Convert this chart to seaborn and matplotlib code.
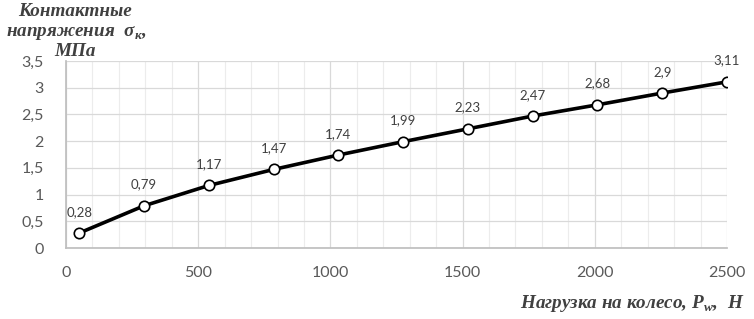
import matplotlib
matplotlib.use("Agg")
import matplotlib.pyplot as plt
import seaborn as sns
import pandas as pd
from matplotlib.ticker import MultipleLocator, FuncFormatter

load_n = [50, 295, 540, 785, 1030, 1275, 1520, 1765, 2010, 2255, 2500]
stress_mpa = [0.28, 0.79, 1.17, 1.47, 1.74, 1.99, 2.23, 2.47, 2.68, 2.9, 3.11]
point_labels = ["0,28", "0,79", "1,17", "1,47", "1,74", "1,99", "2,23", "2,47", "2,68", "2,9", "3,11"]

df = pd.DataFrame({"load": load_n, "stress": stress_mpa})

sns.set_theme(style="white")
plt.rcParams['font.family'] = ['Lato', 'DejaVu Sans']

fig = plt.figure(figsize=(7.54, 3.19), dpi=100)
ax = fig.add_axes([66/754, 1-248/319, (727-66)/754, (248-61)/319])

sns.lineplot(data=df, x="load", y="stress", ax=ax, color="black", linewidth=2.6,
             marker="o", markersize=7.5, markerfacecolor="white",
             markeredgecolor="black", markeredgewidth=1.2, zorder=3)

for x, y, t in zip(load_n, stress_mpa, point_labels):
    ax.annotate(t, (x, y), xytext=(0, 11), textcoords="offset points",
                ha="center", va="bottom", fontsize=9.5, color="#404040")

ax.set_xlim(0, 2500)
ax.set_ylim(0, 3.5)
ax.xaxis.set_major_locator(MultipleLocator(500))
ax.xaxis.set_minor_locator(MultipleLocator(100))
ax.yaxis.set_major_locator(MultipleLocator(0.5))
fmt = FuncFormatter(lambda v, p: ("%g" % v).replace(".", ","))
ax.yaxis.set_major_formatter(fmt)
ax.xaxis.set_major_formatter(FuncFormatter(lambda v, p: "%d" % v))
ax.grid(which="major", color="#d9d9d9", linewidth=0.9)
ax.grid(which="minor", axis="x", color="#ececec", linewidth=0.8)
for s in ["top", "right"]:
    ax.spines[s].set_visible(False)
ax.spines["left"].set_color("#bfbfbf")
ax.spines["bottom"].set_color("#bfbfbf")
ax.tick_params(axis="both", which="both", length=0, labelsize=11.5, colors="#595959")
ax.tick_params(axis="x", pad=13)
ax.tick_params(axis="y", pad=16)
ax.set_xlabel("")
ax.set_ylabel("")

serif = dict(family=["Liberation Serif", "DejaVu Serif"], weight="bold", style="italic",
             color="#404040", fontsize=13.8)
fig.text(75/754, 1-12/319, "Контактные", ha="center", va="center", **serif)
fig.text(76/754, 1-33/319, r"напряжения  σ$_\mathregular{к}$,", ha="center", va="center", **serif)
fig.text(75/754, 1-52/319, "МПа", ha="center", va="center", **serif)
fig.text(744/754, 1-304/319, r"Нагрузка на колесо, P$_\mathregular{w}$,  Н", ha="right", va="center", **serif)

fig.savefig("out.png", dpi=100)
